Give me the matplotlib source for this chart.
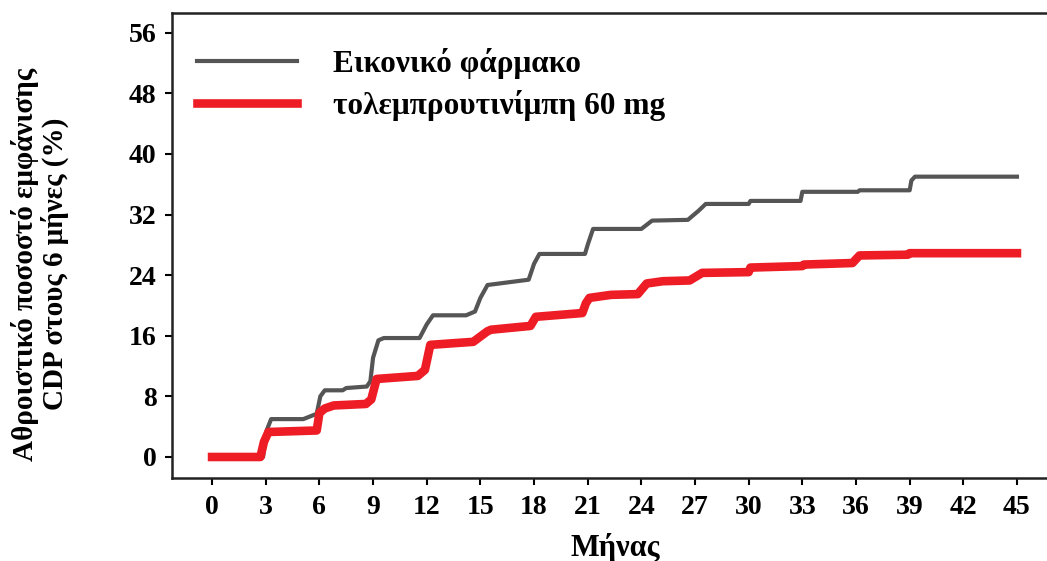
import matplotlib.pyplot as plt

# Placebo (gray) curve
placebo_months = [0, 2.85, 3.05, 3.3, 5.1, 5.85, 6.05, 6.3, 7.3, 7.5, 8.65, 8.85, 9.0, 9.3,
                  9.6, 11.6, 12.0, 12.35, 14.2, 14.7, 15.0, 15.4, 17.7, 18.0, 18.3, 20.85,
                  21.0, 21.3, 24.0, 24.6, 26.6, 27.2, 27.6, 30.0, 30.1, 32.9, 33.0, 36.1,
                  36.2, 39.0, 39.1, 39.3, 45.0]
placebo_values = [0, 0, 3.5, 5.0, 5.0, 5.7, 8.0, 8.8, 8.8, 9.1, 9.3, 10.0, 13.1, 15.4,
                  15.7, 15.7, 17.5, 18.7, 18.7, 19.2, 21.0, 22.7, 23.4, 25.5, 26.8, 26.8,
                  28.0, 30.1, 30.1, 31.2, 31.3, 32.5, 33.4, 33.4, 33.8, 33.8, 35.0, 35.0,
                  35.2, 35.2, 36.5, 37.0, 37.0]

# Tolebrutinib 60 mg (red) curve
tole_months = [0, 2.7, 2.9, 3.15, 5.85, 6.0, 6.3, 6.8, 8.6, 8.9, 9.2, 11.5, 11.9, 12.2,
               14.6, 15.4, 15.6, 17.8, 18.1, 20.7, 20.9, 21.1, 22.3, 23.8, 24.3, 25.2,
               26.7, 27.4, 30.0, 30.1, 33.0, 33.1, 35.8, 36.2, 38.9, 39.0, 45.0]
tole_values = [0, 0, 2.0, 3.3, 3.5, 5.8, 6.4, 6.8, 7.0, 7.6, 10.3, 10.7, 11.5, 14.8,
               15.2, 16.6, 16.8, 17.3, 18.5, 19.0, 20.3, 21.0, 21.4, 21.5, 22.9, 23.2,
               23.3, 24.3, 24.4, 25.0, 25.2, 25.4, 25.6, 26.6, 26.7, 26.9, 26.9]

x_ticks = list(range(0, 46, 3))
y_ticks = list(range(0, 57, 8))

labels = ["Εικονικό φάρμακο", "τολεμπρουτινίμπη 60 mg"]
y_label = "Αθροιστικό ποσοστό εμφάνισης\nCDP στους 6 μήνες (%)"
x_label = "Μήνας"

plt.rcParams['font.family'] = ['Liberation Serif', 'DejaVu Serif']
plt.rcParams['font.weight'] = 'bold'

fig = plt.figure(figsize=(10.47, 5.61), dpi=100)
ax = fig.add_axes([0.1643, 0.148, 0.8357, 0.8288])

ax.plot(placebo_months, placebo_values, color='#555555', linewidth=3.0, label=labels[0],
        solid_joinstyle='round')
ax.plot(tole_months, tole_values, color='#EE1C25', linewidth=6.2, label=labels[1],
        solid_joinstyle='round')

ax.set_xlim(-2.24, 46.68)
ax.set_ylim(-2.77, 58.6)
ax.set_xticks(x_ticks)
ax.set_yticks(y_ticks)
ax.tick_params(direction='out', length=5, width=1.5, labelsize=20, pad=6)
ax.tick_params(axis='x', pad=7)
for lab in ax.get_xticklabels() + ax.get_yticklabels():
    lab.set_fontweight('bold')

for side in ['left', 'bottom', 'top']:
    ax.spines[side].set_linewidth(1.8)
    ax.spines[side].set_color('#222222')
ax.spines['right'].set_visible(False)

ax.set_xlabel(x_label, fontsize=22, fontweight='bold')
ax.xaxis.set_label_coords(0.507, -0.118)
ax.set_ylabel(y_label, fontsize=21, fontweight='bold', linespacing=1.05)
ax.yaxis.set_label_coords(-0.118, 0.46)

leg = ax.legend(loc='upper left', bbox_to_anchor=(-0.004, 0.985), frameon=False,
                fontsize=22.5, handlelength=3.2, handletextpad=1.15, labelspacing=0.35)
for t in leg.get_texts():
    t.set_fontweight('bold')

fig.savefig('out.png', dpi=100)
